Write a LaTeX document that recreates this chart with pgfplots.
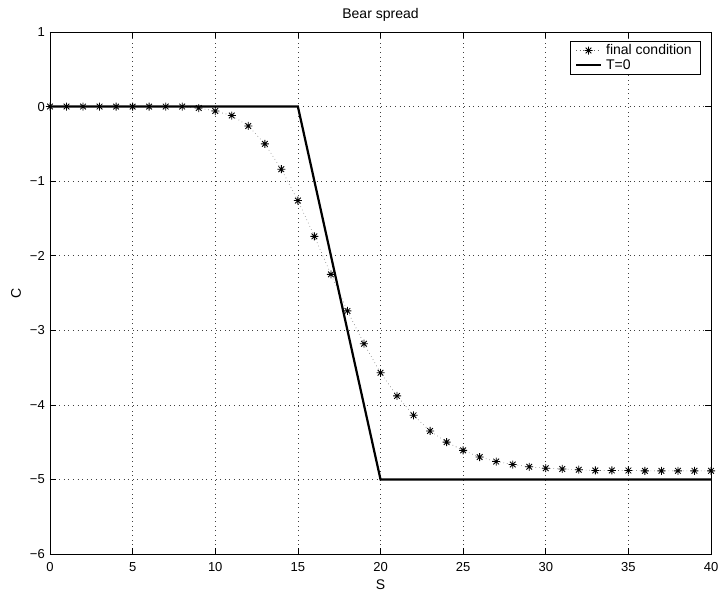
\documentclass[border=0pt]{standalone}
\usepackage{fontspec}
\setmainfont{Liberation Sans}
\usepackage{pgfplots}
\pgfplotsset{compat=1.18}
\pgfdeclareplotmark{mstar}{%
  \pgfpathmoveto{\pgfqpoint{-\pgfplotmarksize}{0pt}}%
  \pgfpathlineto{\pgfqpoint{\pgfplotmarksize}{0pt}}%
  \pgfpathmoveto{\pgfqpoint{0pt}{-\pgfplotmarksize}}%
  \pgfpathlineto{\pgfqpoint{0pt}{\pgfplotmarksize}}%
  \pgfpathmoveto{\pgfqpoint{-0.707\pgfplotmarksize}{-0.707\pgfplotmarksize}}%
  \pgfpathlineto{\pgfqpoint{0.707\pgfplotmarksize}{0.707\pgfplotmarksize}}%
  \pgfpathmoveto{\pgfqpoint{-0.707\pgfplotmarksize}{0.707\pgfplotmarksize}}%
  \pgfpathlineto{\pgfqpoint{0.707\pgfplotmarksize}{-0.707\pgfplotmarksize}}%
  \pgfusepathqstroke}
\begin{document}
\begin{tikzpicture}
\begin{axis}[
  scale only axis,
  width=661pt, height=522pt,
  xmin=0, xmax=40, ymin=-6, ymax=1,
  xtick={0,5,...,40},
  ytick={-6,-5,...,1},
  yticklabels={−6,−5,−4,−3,−2,−1,0,1},
  /pgf/number format/assume math mode=true,
  tick label style={font=\fontsize{13}{15}\selectfont},
  xticklabel style={anchor=center, yshift=-13pt},
  yticklabel style={anchor=east, inner sep=0pt, xshift=-5pt},
  tick align=inside,
  major tick length=6pt,
  tick style={black, line width=0.6pt},
  axis line style={black, line width=0.8pt},
  grid=major,
  major grid style={black!75, line width=0.6pt, dash pattern=on 0.6pt off 4pt},
  title={Bear spread},
  title style={font=\fontsize{14}{16}\selectfont, at={(rel axis cs:0.5,1)}, anchor=center, yshift=11pt},
  xlabel={S},
  xlabel style={font=\fontsize{14}{16}\selectfont, at={(rel axis cs:0.5,0)}, anchor=center, yshift=-31pt},
  ylabel={C},
  ylabel style={font=\fontsize{14}{16}\selectfont, at={(rel axis cs:0,0.5)}, anchor=center, yshift=34pt},
  legend style={at={(rel axis cs:0.985,0.983)}, anchor=north east,
    draw=black, line width=0.7pt, fill=white, font=\fontsize{14}{16}\selectfont,
    inner xsep=5pt, inner ysep=2.5pt, row sep=1pt, cells={anchor=west},
    nodes={inner xsep=4pt, inner ysep=1pt}},
  legend image code/.code={\draw[mark repeat=2,mark phase=2,#1] plot coordinates {(0pt,0pt)(12.5pt,0pt)(25pt,0pt)};},
]
\addplot[black!60, line width=0.6pt, dash pattern=on 0.6pt off 3pt, mark=mstar, mark size=4pt,
  mark options={solid, black, line width=0.85pt}] coordinates {
(0,0)(1,0)(2,0)(3,0)(4,0)(5,0)(6,0)(7,0)(8,0)(9,-0.02)
(10,-0.06)(11,-0.12)(12,-0.26)(13,-0.50)(14,-0.84)(15,-1.26)(16,-1.74)(17,-2.25)(18,-2.74)(19,-3.18)
(20,-3.57)(21,-3.88)(22,-4.14)(23,-4.35)(24,-4.50)(25,-4.61)(26,-4.70)(27,-4.76)(28,-4.80)(29,-4.83)
(30,-4.85)(31,-4.86)(32,-4.87)(33,-4.88)(34,-4.88)(35,-4.88)(36,-4.885)(37,-4.885)(38,-4.885)(39,-4.885)(40,-4.885)
};
\addlegendentry{final condition}
\addplot[black, line width=2.2pt] coordinates {(0,0)(15,0)(20,-5)(40,-5)};
\addlegendentry{T=0}
\end{axis}
\pgfresetboundingbox
\path[use as bounding box] (-50pt,-38pt) rectangle (669pt,554pt);
\end{tikzpicture}
\end{document}
